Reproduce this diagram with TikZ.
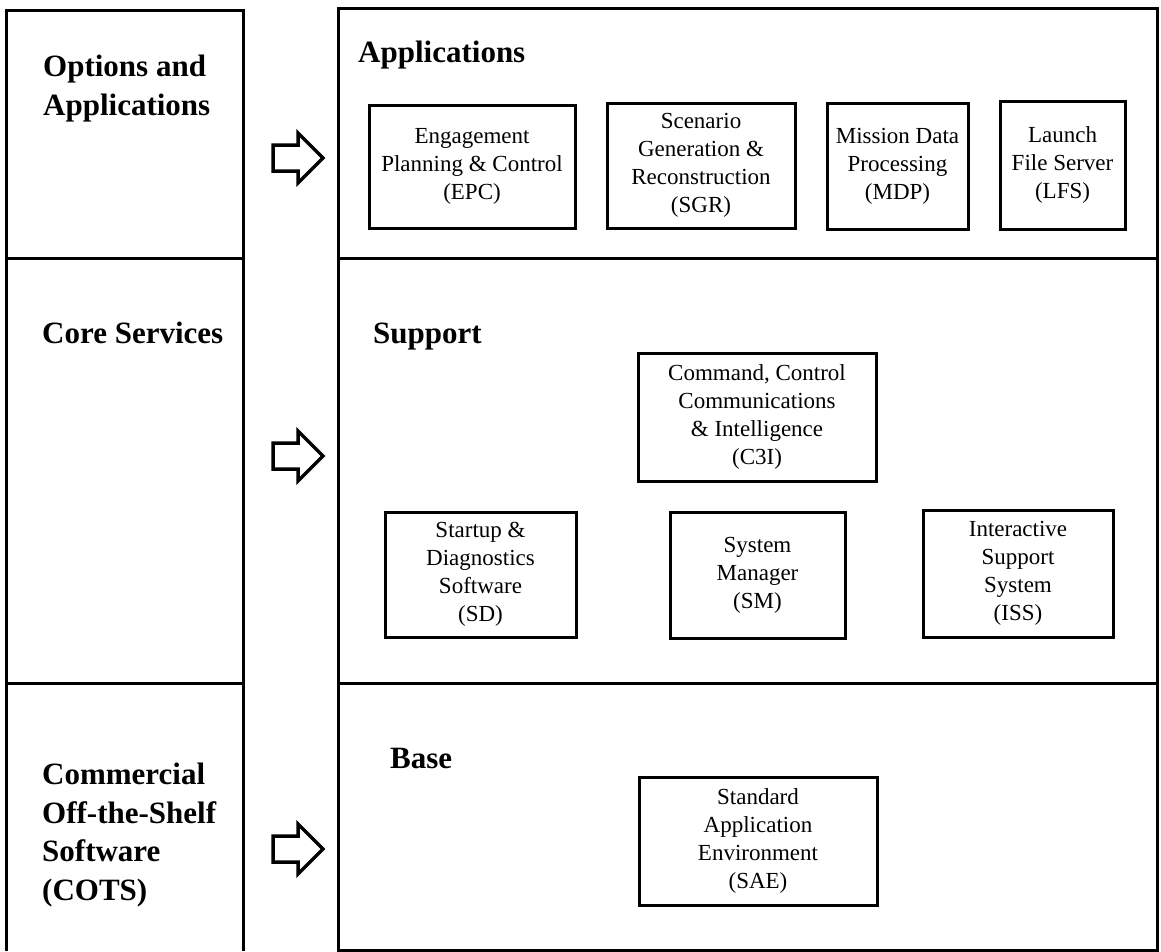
\documentclass[tikz,border=0pt]{standalone}
\usepackage{fontspec}
\setmainfont{Liberation Serif}
\newcommand{\unitfont}{\fontsize{23}{28}\selectfont}
\newcommand{\layerfont}{\fontsize{31}{38.5}\selectfont\bfseries}
\begin{document}
\begin{tikzpicture}
[
x=1pt, y=-1pt,
layer/.style={line width=3pt},
heading/.style={anchor=base west, inner sep=0pt, align=left, font=\layerfont},
unit/.style={draw=black, line width=3pt, align=center, inner sep=0pt, font=\unitfont},
blockarrow/.style={draw=black, line width=3.5pt, line join=miter}
]
\useasboundingbox (0,0) rectangle (1161,951);

%Layers
\draw[layer] (6,951) -- (6,10) -- (243,10) -- (243,951);
\draw[layer] (6,258) -- (243,258);
\draw[layer] (6,683) -- (243,683);
\draw[layer] (338,8) rectangle (1157,950);
\draw[layer] (338,258) -- (1157,258);
\draw[layer] (338,683) -- (1157,683);

%Headings (base = last line)
\node[heading] (optapp)  at (43,115)  {Options and\\Applications};
\node[heading] (apphd)   at (358,62)  {Applications};
\node[heading] (core)    at (42,343)  {Core Services};
\node[heading] (supphd)  at (373,343) {Support};
\node[heading] (cots)    at (42,900)  {Commercial\\Off-the-Shelf\\Software\\(COTS)};
\node[heading] (basehd)  at (390,768) {Base};

%Nodes
\node[unit, minimum width=206pt, minimum height=123pt] (epc) at (472,166.5)  {Engagement\\Planning \& Control\\(EPC)};
\node[unit, minimum width=188pt, minimum height=125pt] (sgr) at (701,165.5)  {Scenario\\Generation \&\\Reconstruction\\(SGR)};
\node[unit, minimum width=141pt, minimum height=126pt] (mdp) at (897.5,166)  {Mission Data\\Processing\\(MDP)};
\node[unit, minimum width=125pt, minimum height=128pt] (lfs) at (1062.5,165) {Launch\\File Server\\(LFS)};
\node[unit, minimum width=238pt, minimum height=128pt] (c3i) at (757,417)    {Command, Control\\Communications\\\& Intelligence\\(C3I)};
\node[unit, minimum width=191pt, minimum height=125pt] (sd)  at (480.5,574.5) {Startup \&\\Diagnostics\\Software\\(SD)};
\node[unit, minimum width=175pt, minimum height=126pt] (sm)  at (757.5,575)  {System\\Manager\\(SM)};
\node[unit, minimum width=190pt, minimum height=127pt] (iss) at (1018,573.5) {Interactive\\Support\\System\\(ISS)};
\node[unit, minimum width=238pt, minimum height=128pt] (sae) at (758,841)    {Standard\\Application\\Environment\\(SAE)};

%Arrows
\foreach \y in {158,456,849}
  \draw[blockarrow] (273,{\y-13}) -- (298,{\y-13}) -- (298,{\y-25}) -- (323,\y)
        -- (298,{\y+25}) -- (298,{\y+13}) -- (273,{\y+13}) -- cycle;

\end{tikzpicture}
\end{document}
